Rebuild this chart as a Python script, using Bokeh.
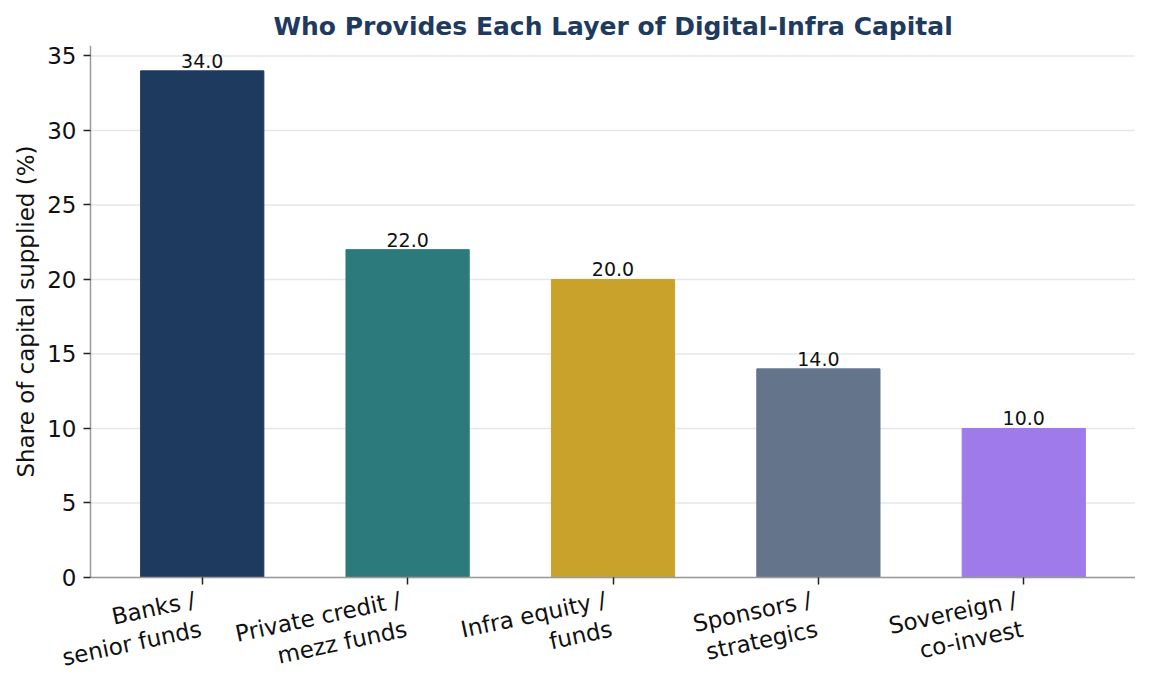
import math
from bokeh.plotting import figure
from bokeh.models import ColumnDataSource, Range1d, FixedTicker, LinearAxis
from bokeh.core.properties import value
from bokeh.embed import file_html
from bokeh.resources import INLINE

categories = ["Banks /\nsenior funds", "Private credit /\nmezz funds", "Infra equity /\nfunds",
              "Sponsors /\nstrategics", "Sovereign /\nco-invest"]
shares = [34.0, 22.0, 20.0, 14.0, 10.0]
colors = ["#1f3a5f", "#2d7a7c", "#c9a22b", "#64748b", "#9f7aea"]
y_ticks = [0, 5, 10, 15, 20, 25, 30, 35]
y_title = "Share of capital supplied (%)"
chart_title = "Who Provides Each Layer of Digital-Infra Capital"

idx = list(range(len(categories)))
src = ColumnDataSource(dict(x=idx, top=shares, color=colors, base=[0.0] * len(idx),
                            cat=categories, label=[f"{v:.1f}" for v in shares]))

FONT = "DejaVu Sans"
W, H = 1135, 674
TOP, ZERO_PX = 45, 577          # pixel rows of y = max and y = 0
LEFT_PX = 90                    # pixel column of the y axis
x_lo, x_hi = -0.544, len(categories) - 1 + 0.544
y_max = max(shares) * 1.05
py = (ZERO_PX - TOP) / y_max
px = (W - LEFT_PX) / (x_hi - x_lo)
y_min = -(H - ZERO_PX) / py      # frame continues below the x axis (room for labels)
x_min = x_lo - LEFT_PX / px      # and left of the y axis (room for its labels)

p = figure(width=W, height=H, output_backend="svg", toolbar_location=None,
           x_range=Range1d(x_min, x_hi), y_range=Range1d(y_min, y_max),
           x_axis_location=None, y_axis_location=None,
           min_border_left=0, min_border_right=0, min_border_top=TOP, min_border_bottom=0,
           title=chart_title)
p.outline_line_color = None
p.grid.grid_line_color = None

# horizontal grid lines between the axes
p.segment(x0=[x_lo] * len(y_ticks), x1=[x_hi] * len(y_ticks), y0=y_ticks, y1=y_ticks,
          line_color="#e5e7eb", line_width=1.5)

p.vbar(x="x", top="top", width=0.6, color="color", source=src)
p.text(x="x", y="top", text="label", source=src, text_align="center", text_baseline="bottom",
       y_offset=-3, text_font=value(FONT), text_font_size="19px", text_color="#111111")

# category labels, rotated, right-aligned under each tick
p.text(x="x", y="base", text="cat", source=src, angle=math.radians(12),
       text_align="right", text_baseline="top", x_offset=-10, y_offset=9,
       text_font=value(FONT), text_font_size="23px", text_color="#111111",
       text_line_height=1.15)

# y axis title
p.text(x=[x_min + 25 / px], y=[y_max / 2], text=[y_title], angle=math.pi / 2,
       text_align="center", text_baseline="middle",
       text_font=value(FONT), text_font_size="23px", text_color="#111111")

xaxis = LinearAxis(fixed_location=0, ticker=FixedTicker(ticks=idx), bounds=(x_lo, x_hi),
                   major_label_text_color=None)
yaxis = LinearAxis(fixed_location=x_lo, ticker=FixedTicker(ticks=y_ticks), bounds=(0, y_max),
                   major_label_standoff=7, major_label_text_font=FONT,
                   major_label_text_font_size="23px", major_label_text_color="#111111")
for ax in (xaxis, yaxis):
    ax.axis_line_color = "#9a9a9a"
    ax.axis_line_width = 1.5
    ax.major_tick_line_color = "#222222"
    ax.major_tick_line_width = 1.5
    ax.major_tick_out = 7
    ax.major_tick_in = 0
    ax.minor_tick_line_color = None
p.add_layout(xaxis, "below")
p.add_layout(yaxis, "left")

p.title.text_font = FONT
p.title.text_font_size = "25px"
p.title.text_font_style = "bold"
p.title.text_color = "#1f3a5f"
p.title.align = "left"
p.title.offset = 273
p.title.standoff = 10

open("out.html", "w").write(file_html(p, INLINE))
